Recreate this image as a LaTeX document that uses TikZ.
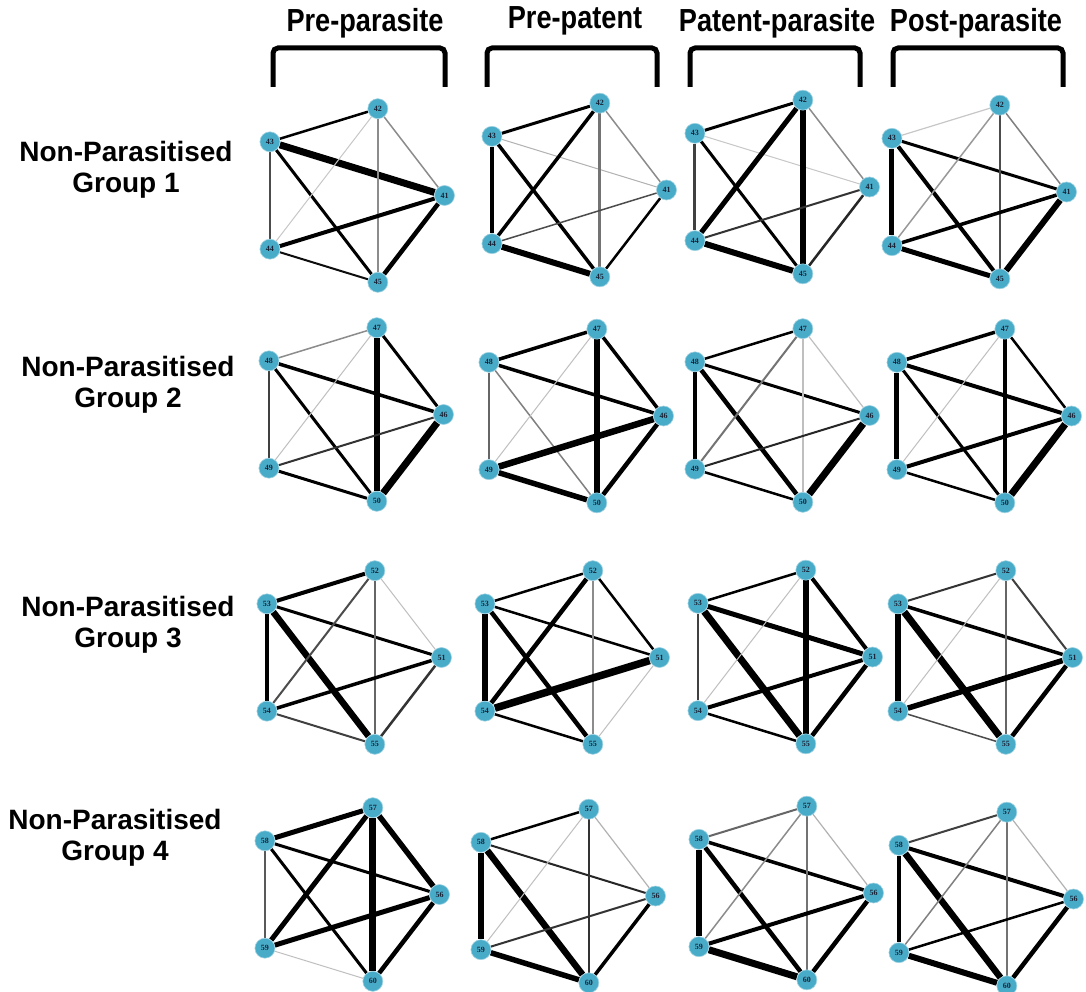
\documentclass[tikz,border=0pt]{standalone}
\usepackage{fontspec}
\setmainfont{Liberation Sans}
\newfontfamily\nodeserif{Liberation Serif}
\usetikzlibrary{backgrounds}
\definecolor{nodecol}{RGB}{72,172,200}
\definecolor{nodeedge}{RGB}{160,210,226}
\definecolor{nodetext}{RGB}{25,35,55}
\def\prx{96.5}
\def\pry{91.3}
\tikzset{
  gnode/.style={circle, fill=nodecol, draw=nodeedge, line width=0.6pt, minimum size=20pt, inner sep=0pt,
    font=\nodeserif\bfseries\fontsize{8}{8}\selectfont, text=nodetext},
  bracketline/.style={line width=5pt, rounded corners=5pt},
  hdr/.style={font=\bfseries\fontsize{28}{28}\selectfont, inner sep=0pt},
  rowlab/.style={align=center, font=\bfseries\fontsize{28}{31}\selectfont, inner sep=0pt},
}
\newcommand\pgraph[8]{%
  \node[gnode] (#1A) at ({#2-0.809*\prx},{#3-0.588*\pry}) {#4};
  \node[gnode] (#1B) at ({#2+0.309*\prx},{#3-0.951*\pry}) {#5};
  \node[gnode] (#1C) at ({#2+\prx},{#3}) {#6};
  \node[gnode] (#1D) at ({#2-0.809*\prx},{#3+0.588*\pry}) {#7};
  \node[gnode] (#1E) at ({#2+0.309*\prx},{#3+0.951*\pry}) {#8};
}
\newcommand\pedges[2]{%
  \begin{pgfonlayer}{background}
  \foreach \u/\v/\w/\g in {#2}{\draw[line width=\w pt, draw=black!\g] (#1\u) -- (#1\v);}
  \end{pgfonlayer}
}
\newcommand\hdrtext[1]{\scalebox{0.97}[1.14]{#1}}
\begin{document}
\begin{tikzpicture}[x=1pt,y=-1pt]
\useasboundingbox (0,0) rectangle (1086,992);
\begin{pgfonlayer}{background}
\fill[white] (0,0) rectangle (1086,992);
\end{pgfonlayer}

% headers
\node[hdr] (h1) at (365,23) {\hdrtext{Pre-parasite}};
\node[hdr] (h2) at (575,21) {\hdrtext{Pre-patent}};
\node[hdr] (h3) at (777,23) {\hdrtext{Patent-parasite}};
\node[hdr] (h4) at (976,23) {\hdrtext{Post-parasite}};
\draw[bracketline] (273,87) -- (273,48) -- (445,48) -- (445,87);
\draw[bracketline] (487,87) -- (487,48) -- (657,48) -- (657,87);
\draw[bracketline] (690,87) -- (690,48) -- (860,48) -- (860,87);
\draw[bracketline] (893,87) -- (893,48) -- (1063,48) -- (1063,87);

% row labels
\node[rowlab] (r1) at (126,170) {Non-Parasitised\\Group 1};
\node[rowlab] (r2) at (128,385) {Non-Parasitised\\Group 2};
\node[rowlab] (r3) at (128,625) {Non-Parasitised\\Group 3};
\node[rowlab] (r4) at (115,838) {Non-Parasitised\\Group 4};

% row 1
\pgraph{g11}{348}{195.5}{43}{42}{41}{44}{45}
\pgraph{g12}{570}{190}{43}{42}{41}{44}{45}
\pgraph{g13}{773}{187}{43}{42}{41}{44}{45}
\pgraph{g14}{970}{192}{43}{42}{41}{44}{45}
\pedges{g11}{A/B/2.5/100, A/C/7/100, A/D/2.5/70, A/E/3/100, B/C/1.5/45, B/D/1/22, B/E/2/45, C/D/4/100, C/E/4.5/100, D/E/2/95}
\pedges{g12}{A/B/3/100, A/C/1/30, A/D/4/100, A/E/3.5/100, B/C/1.5/45, B/D/3.5/100, B/E/3/55, C/D/1.5/70, C/E/2.5/100, D/E/6/100}
\pedges{g13}{A/B/3/100, A/C/1/22, A/D/3/75, A/E/3/100, B/C/1.5/45, B/D/5/100, B/E/6/100, C/D/2/80, C/E/2.5/85, D/E/6/100}
\pedges{g14}{A/B/1.2/22, A/C/3/100, A/D/5/100, A/E/4/100, B/C/1.5/50, B/D/1.5/40, B/E/2.5/70, C/D/3.5/100, C/E/6/100, D/E/5/100}

% row 2
\pgraph{g21}{347}{414.5}{48}{47}{46}{49}{50}
\pgraph{g22}{567}{416}{48}{47}{46}{49}{50}
\pgraph{g23}{773}{415.5}{48}{47}{46}{49}{50}
\pgraph{g24}{975}{416}{48}{47}{46}{49}{50}
\pedges{g21}{A/B/1.5/45, A/C/3.5/100, A/D/2.5/75, A/E/3/100, B/C/3/100, B/D/1/25, B/E/6/100, C/D/2/80, C/E/7/100, D/E/3/100}
\pedges{g22}{A/B/3.5/100, A/C/3.5/100, A/D/2.5/60, A/E/1.5/50, B/C/3.5/100, B/D/1/25, B/E/6/100, C/D/6.5/100, C/E/4.5/100, D/E/5.5/100}
\pedges{g23}{A/B/2.5/100, A/C/3/100, A/D/4.5/100, A/E/4.5/100, B/C/1.2/25, B/D/2/55, B/E/1.5/25, C/D/2/85, C/E/7/100, D/E/2.5/100}
\pedges{g24}{A/B/3.5/100, A/C/4/100, A/D/5/100, A/E/3/100, B/C/2.5/100, B/D/1/25, B/E/3.5/100, C/D/4/100, C/E/7/100, D/E/2.5/100}

% row 3
\pgraph{g31}{345}{657.5}{53}{52}{51}{54}{55}
\pgraph{g32}{563}{657.5}{53}{52}{51}{54}{55}
\pgraph{g33}{776}{657}{53}{52}{51}{54}{55}
\pgraph{g34}{976}{657.5}{53}{52}{51}{54}{55}
\pedges{g31}{A/B/4/100, A/C/3/100, A/D/3.5/100, A/E/6.5/100, B/C/1/25, B/D/2/70, B/E/2.5/60, C/D/3.5/100, C/E/2.5/80, D/E/2/75}
\pedges{g32}{A/B/2.5/100, A/C/2.5/100, A/D/6/100, A/E/4.5/100, B/C/2.5/100, B/D/4.5/100, B/E/1.5/45, C/D/7.5/100, C/E/1/25, D/E/2.5/100}
\pedges{g33}{A/B/2.5/100, A/C/5/100, A/D/2.5/75, A/E/7/100, B/C/4/100, B/D/1/25, B/E/5.5/100, C/D/4/100, C/E/4.5/100, D/E/2.5/100}
\pedges{g34}{A/B/2/80, A/C/3.5/100, A/D/5.5/100, A/E/7/100, B/C/2/75, B/D/1/25, B/E/2.5/60, C/D/5.5/100, C/E/4.5/100, D/E/1.5/70}

% row 4
\pgraph{g41}{343}{894.5}{58}{57}{56}{59}{60}
\pgraph{g42}{559}{896}{58}{57}{56}{59}{60}
\pgraph{g43}{777}{893}{58}{57}{56}{59}{60}
\pgraph{g44}{977}{899}{58}{57}{56}{59}{60}
\pedges{g41}{A/B/5/100, A/C/3/100, A/D/2.5/65, A/E/3/100, B/C/5.5/100, B/D/5/100, B/E/7/100, C/D/5/100, C/E/4.5/100, D/E/1/25}
\pedges{g42}{A/B/2.5/100, A/C/2/85, A/D/6/100, A/E/6.5/100, B/C/1.2/30, B/D/1/25, B/E/2.5/80, C/D/2/80, C/E/3.5/100, D/E/5.5/100}
\pedges{g43}{A/B/2/60, A/C/3.5/100, A/D/6/100, A/E/4.5/100, B/C/1.2/30, B/D/1.5/45, B/E/2.5/55, C/D/4/100, C/E/4.5/100, D/E/7/100}
\pedges{g44}{A/B/2/75, A/C/4/100, A/D/4.5/100, A/E/6.5/100, B/C/1.2/30, B/D/1.5/50, B/E/2.5/55, C/D/2.5/100, C/E/4.5/100, D/E/6/100}
\end{tikzpicture}
\end{document}
